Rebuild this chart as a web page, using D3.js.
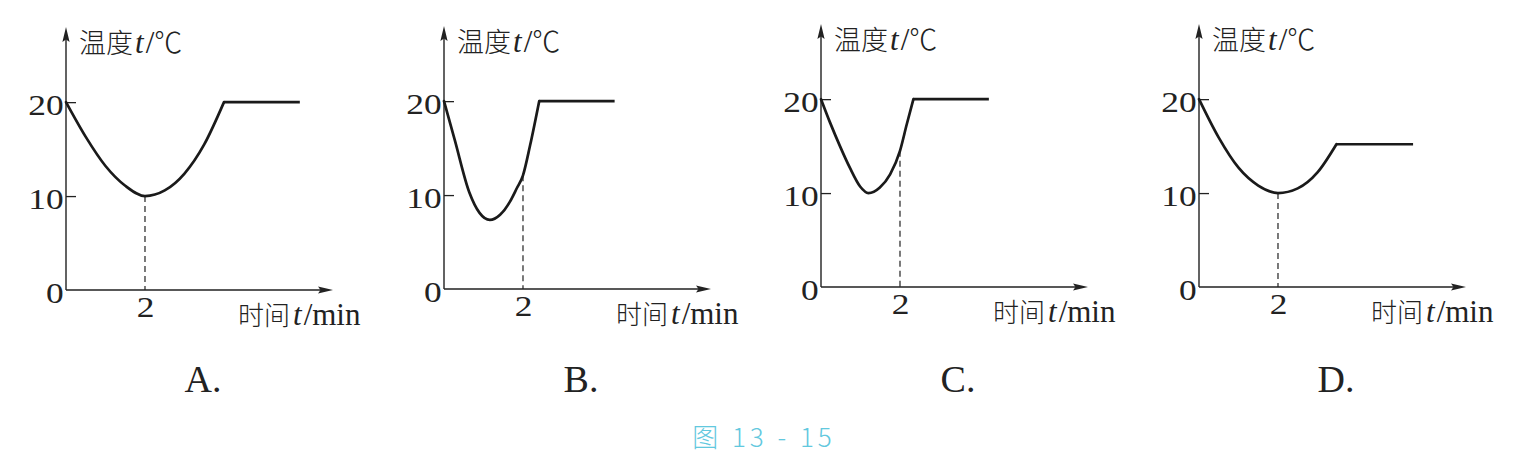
<!DOCTYPE html>
<html>
<head>
<meta charset="utf-8">
<script src="https://cdn.jsdelivr.net/npm/d3@7"></script>
<style>
  body { margin: 0; background: #fff; }
  svg { display: block; }
  .tick text { font-family: "Liberation Serif", "Times New Roman", serif; font-size: 30px; fill: #222; }
  .cjk { font-family: "Noto Sans CJK SC", sans-serif; font-weight: 300; }
  .lat { font-family: "Liberation Serif", "Times New Roman", serif; }
</style>
</head>
<body>
<svg id="chart" width="1525" height="472"></svg>
<script>
// values: [time (min), temperature (°C)]
const panelLabels = ["A.", "B.", "C.", "D."];
const curveA = [[0, 20], [0.5, 16.3], [1, 13.2], [1.5, 11.1], [2, 10], [2.5, 10.6], [3, 12.4], [3.5, 15.5], [4, 20]];
const curveB = [[0, 20], [0.27, 15.9], [0.64, 10.3], [0.9, 8.1], [1.16, 7.35], [1.42, 7.9], [1.67, 9.3], [1.84, 10.7], [2, 12.1], [2.18, 15.3], [2.41, 20]];
const curveC = [[0, 20], [0.23, 17.5], [0.48, 15], [0.73, 12.7], [0.99, 10.7], [1.2, 10], [1.49, 10.6], [1.75, 12], [2, 14.5], [2.17, 17.3], [2.34, 20]];
const curveD = [[0, 20], [0.5, 15.9], [1, 12.7], [1.5, 10.8], [2, 10], [2.5, 10.5], [3, 12.2], [3.48, 15.2]];
const curves = [curveA, curveB, curveC, curveD];
const plateauEnd = [5.92, 4.32, 4.25, 5.42];
const markT = 2;
const yTicks = [0, 10, 20];
const xTicks = [2];
const caption = "图 13 - 15";

// layout
const origins = [[66, 290], [444, 289], [821, 287], [1199, 287]];
const x = d3.scaleLinear().domain([0, 6.76]).range([0, 267]);
const y = d3.scaleLinear().domain([0, 28]).range([0, -263]);

const svg = d3.select("#chart");
const ink = "#222";

const curveLine = d3.line()
  .x((d) => x(d[0]))
  .y((d) => y(d[1]))
  .curve(d3.curveMonotoneX);
const straight = d3.line().x((d) => x(d[0])).y((d) => y(d[1]));

const panel = svg.selectAll(".panel")
  .data(curves)
  .join("g")
  .attr("class", "panel")
  .attr("transform", (d, i) => `translate(${origins[i][0]},${origins[i][1]})`);

// y axis: inward ticks, labels on the left (the book's digits are wide)
panel.append("g")
  .call(d3.axisLeft(y).tickValues(yTicks).tickSizeInner(-10).tickSizeOuter(0).tickPadding(2).tickFormat(d3.format("d")))
  .call((g) => g.select(".domain").remove())
  .call((g) => g.selectAll(".tick line").attr("stroke", ink).attr("stroke-width", 1.3))
  .call((g) => g.selectAll(".tick").filter((d) => d === 0).select("line").remove())
  .call((g) => g.selectAll(".tick text").attr("dy", "0.42em").attr("transform", "scale(1.18,1)"));

// x axis: label only, the dashed guide marks the tick
panel.append("g")
  .call(d3.axisBottom(x).tickValues(xTicks).tickSize(0).tickPadding(6).tickFormat(d3.format("d")))
  .call((g) => g.select(".domain").remove())
  .call((g) => g.selectAll(".tick text").attr("transform", "scale(1.18,1)"));

// axis lines with arrow heads
panel.append("path")
  .attr("fill", "none")
  .attr("stroke", ink)
  .attr("stroke-width", 1.4)
  .attr("d", `M${x(0)},${y(0)}V${y(28) + 10}M${x(0)},${y(0)}H${x(6.76) - 10}`);
panel.append("path")
  .attr("fill", ink)
  .attr("d", () => {
    const top = y(28), right = x(6.76);
    return `M0,${top}L3.6,${top + 15}L0,${top + 12.5}L-3.6,${top + 15}Z` +
      `M${right},0L${right - 15},3.6L${right - 12.5},0L${right - 15},-3.6Z`;
  });

// dashed guide at t = 2
panel.append("path")
  .attr("fill", "none")
  .attr("stroke", ink)
  .attr("stroke-width", 1.2)
  .attr("stroke-dasharray", "6,4")
  .attr("d", (d) => {
    const p = d.find((v) => v[0] === markT);
    return straight([[markT, p[1]], [markT, 0]]);
  });

// temperature curve and plateau
panel.append("path")
  .attr("fill", "none")
  .attr("stroke", "#1a1a1a")
  .attr("stroke-width", 2.7)
  .attr("stroke-linecap", "round")
  .attr("d", curveLine);
panel.append("path")
  .attr("fill", "none")
  .attr("stroke", "#1a1a1a")
  .attr("stroke-width", 2.7)
  .attr("d", (d, i) => {
    const last = d[d.length - 1];
    return straight([last, [plateauEnd[i], last[1]]]);
  });

// axis titles
const yTitle = panel.append("text")
  .attr("x", 13)
  .attr("y", y(28) + 26)
  .attr("fill", ink);
yTitle.append("tspan").attr("class", "cjk").attr("font-size", 27).text("温度");
yTitle.append("tspan").attr("class", "lat").attr("font-size", 31).attr("font-style", "italic").attr("dx", 2).text("t");
yTitle.append("tspan").attr("class", "lat").attr("font-size", 31).attr("dx", 2).text("/");
yTitle.append("tspan").attr("class", "cjk").attr("font-size", 28).text("℃");

const xTitle = panel.append("text")
  .attr("x", 172)
  .attr("y", 35)
  .attr("fill", ink);
xTitle.append("tspan").attr("class", "cjk").attr("font-size", 26).text("时间");
xTitle.append("tspan").attr("class", "lat").attr("font-size", 31).attr("font-style", "italic").attr("dx", 3).text("t");
xTitle.append("tspan").attr("class", "lat").attr("font-size", 31).attr("dx", 2).text("/min");

// option letters
panel.append("text")
  .attr("class", "lat")
  .attr("x", 137)
  .attr("y", (d, i) => 392 - origins[i][1])
  .attr("text-anchor", "middle")
  .attr("font-size", 38)
  .attr("fill", ink)
  .text((d, i) => panelLabels[i]);

// figure caption
svg.append("text")
  .attr("x", 764)
  .attr("y", 447)
  .attr("text-anchor", "middle")
  .attr("font-family", "'Noto Sans CJK SC', sans-serif")
  .attr("font-weight", 300)
  .attr("font-size", 26)
  .attr("letter-spacing", 4)
  .attr("fill", "#62c8de")
  .text(caption);
</script>
</body>
</html>
